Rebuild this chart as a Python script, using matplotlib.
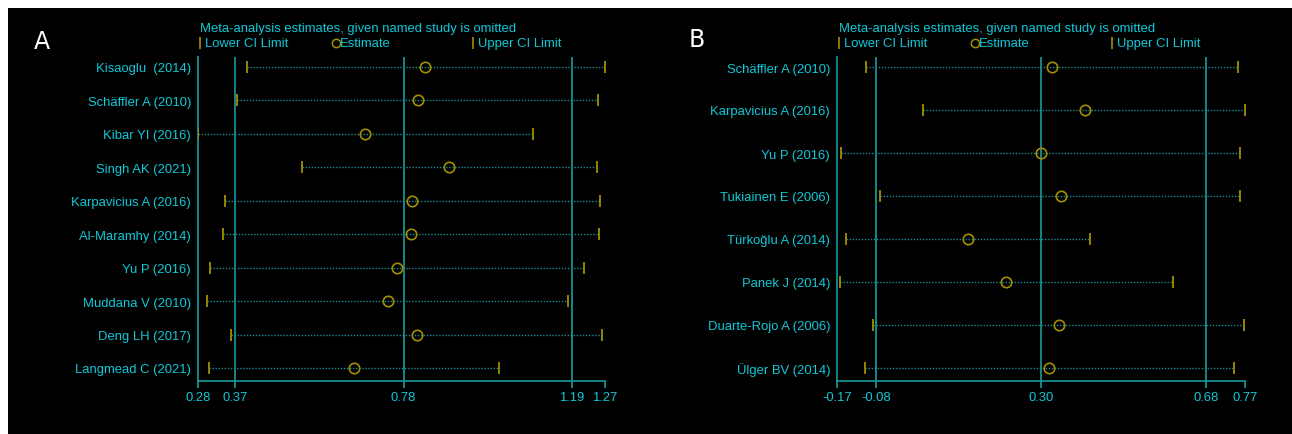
import matplotlib
matplotlib.use("Agg")
import matplotlib.pyplot as plt
from matplotlib.lines import Line2D
from matplotlib.patches import Rectangle
from matplotlib import font_manager

# ---------------- data ----------------
studies_a = ["Kisaoglu  (2014)", "Schäffler A (2010)", "Kibar YI (2016)", "Singh AK (2021)",
             "Karpavicius A (2016)", "Al-Maramhy (2014)", "Yu P (2016)", "Muddana V (2010)",
             "Deng LH (2017)", "Langmead C (2021)"]
lower_a = [0.399, 0.375, 0.281, 0.533, 0.346, 0.340, 0.308, 0.303, 0.360, 0.307]
est_a   = [0.832, 0.814, 0.687, 0.891, 0.801, 0.797, 0.763, 0.741, 0.812, 0.660]
upper_a = [1.270, 1.253, 1.095, 1.250, 1.257, 1.255, 1.219, 1.180, 1.263, 1.012]
ticks_a = [0.28, 0.37, 0.78, 1.19, 1.27]
ticklabels_a = ["0.28", "0.37", "0.78", "1.19", "1.27"]
ref_a = [0.37, 0.78, 1.19]

studies_b = ["Schäffler A (2010)", "Karpavicius A (2016)", "Yu P (2016)", "Tukiainen E (2006)",
             "Türkoğlu A (2014)", "Panek J (2014)", "Duarte-Rojo A (2006)", "Ülger BV (2014)"]
lower_b = [-0.104, 0.027, -0.161, -0.071, -0.150, -0.163, -0.087, -0.105]
est_b   = [0.325, 0.402, 0.299, 0.345, 0.131, 0.220, 0.342, 0.319]
upper_b = [0.753, 0.770, 0.758, 0.759, 0.412, 0.605, 0.767, 0.744]
ticks_b = [-0.17, -0.08, 0.30, 0.68, 0.77]
ticklabels_b = ["-0.17", "-0.08", "0.30", "0.68", "0.77"]
ref_b = [-0.08, 0.30, 0.68]

title_text = "Meta-analysis estimates, given named study is omitted"
legend_texts = ["Lower CI Limit", "Estimate", "Upper CI Limit"]

# ---------------- style ----------------
W, H = 1292, 435
DPI = 100
avail = {f.name for f in font_manager.fontManager.ttflist}
FAM = [f for f in ["Liberation Sans Narrow", "Liberation Sans", "DejaVu Sans"] if f in avail]
plt.rcParams['font.family'] = FAM
FS = 9.4

CYAN = "#10C8D8"
TEAL = "#1A9C9C"
DOT = "#1E8C8C"
OLIVE = "#A09000"

fig = plt.figure(figsize=(W / DPI, H / DPI), dpi=DPI, facecolor="white")
fig.add_artist(Rectangle((8 / W, 0), 1, 1 - 9 / H, transform=fig.transFigure,
                         facecolor="black", edgecolor="none", zorder=0))


def fx(x):
    return x / W


def fy(y):
    return 1 - y / H


def panel(left_px, right_px, row_top, row_bot, studies, lower, est, upper,
          ticks, ticklabels, refs, letter, letter_xy):
    n = len(studies)
    top_px, bot_px = 58, 382
    spacing = (row_bot - row_top) / (n - 1)
    y_top = -(row_top - top_px) / spacing
    y_bot = (bot_px - row_top) / spacing
    ax = fig.add_axes([fx(left_px), fy(bot_px), fx(right_px - left_px), (bot_px - top_px) / H])
    ax.set_facecolor("none")
    ax.set_xlim(ticks[0], ticks[-1])
    ax.set_ylim(y_bot, y_top)
    ys = list(range(n))
    for r in refs:
        ax.axvline(r, color=TEAL, lw=1.2, zorder=1)
    for i in ys:
        ax.plot([lower[i], upper[i]], [i, i], color=DOT, lw=1.0,
                linestyle=(0, (1, 1.2)), zorder=2)
    ax.plot(lower, ys, linestyle="none", marker="|", ms=9, mew=1.3, color=OLIVE, zorder=3)
    ax.plot(upper, ys, linestyle="none", marker="|", ms=9, mew=1.3, color=OLIVE, zorder=3)
    ax.plot(est, ys, linestyle="none", marker="o", ms=7.5, mew=1.2, mfc="none",
            mec=OLIVE, zorder=4)
    for s in ["top", "right"]:
        ax.spines[s].set_visible(False)
    for s in ["left", "bottom"]:
        ax.spines[s].set_color(TEAL)
        ax.spines[s].set_linewidth(1.2)
    ax.set_yticks(ys)
    ax.set_yticklabels(studies)
    ax.tick_params(axis="y", length=0, pad=5, labelcolor=CYAN, labelsize=FS)
    ax.set_xticks(ticks)
    ax.set_xticklabels(ticklabels)
    ax.tick_params(axis="x", length=5, width=1.2, color=TEAL, pad=2,
                   labelcolor=CYAN, labelsize=FS)
    # header
    fig.text(fx(left_px + 2), fy(29), title_text, color=CYAN, fontsize=FS,
             ha="left", va="center")
    lx = left_px
    fig.add_artist(Line2D([fx(lx + 2)], [fy(44)], marker="|", ms=8, mew=1.2,
                          color=OLIVE, transform=fig.transFigure))
    fig.text(fx(lx + 7), fy(44), legend_texts[0], color=CYAN, fontsize=FS,
             ha="left", va="center")
    fig.add_artist(Line2D([fx(lx + 138)], [fy(44)], marker="o", ms=6, mew=1.1, mfc="none",
                          mec=OLIVE, transform=fig.transFigure))
    fig.text(fx(lx + 142), fy(44), legend_texts[1], color=CYAN, fontsize=FS,
             ha="left", va="center")
    fig.add_artist(Line2D([fx(lx + 275)], [fy(44)], marker="|", ms=8, mew=1.2,
                          color=OLIVE, transform=fig.transFigure))
    fig.text(fx(lx + 280), fy(44), legend_texts[2], color=CYAN, fontsize=FS,
             ha="left", va="center")
    fig.text(fx(letter_xy[0]), fy(letter_xy[1]), letter, color="white", fontsize=17,
             ha="center", va="center", family=["DejaVu Sans"])
    return ax


panel(198, 605, 68, 369, studies_a, lower_a, est_a, upper_a,
      ticks_a, ticklabels_a, ref_a, "A", (42, 42))
panel(837, 1245, 68, 369, studies_b, lower_b, est_b, upper_b,
      ticks_b, ticklabels_b, ref_b, "B", (697, 40))

fig.savefig("out.png", dpi=DPI, facecolor="white")
